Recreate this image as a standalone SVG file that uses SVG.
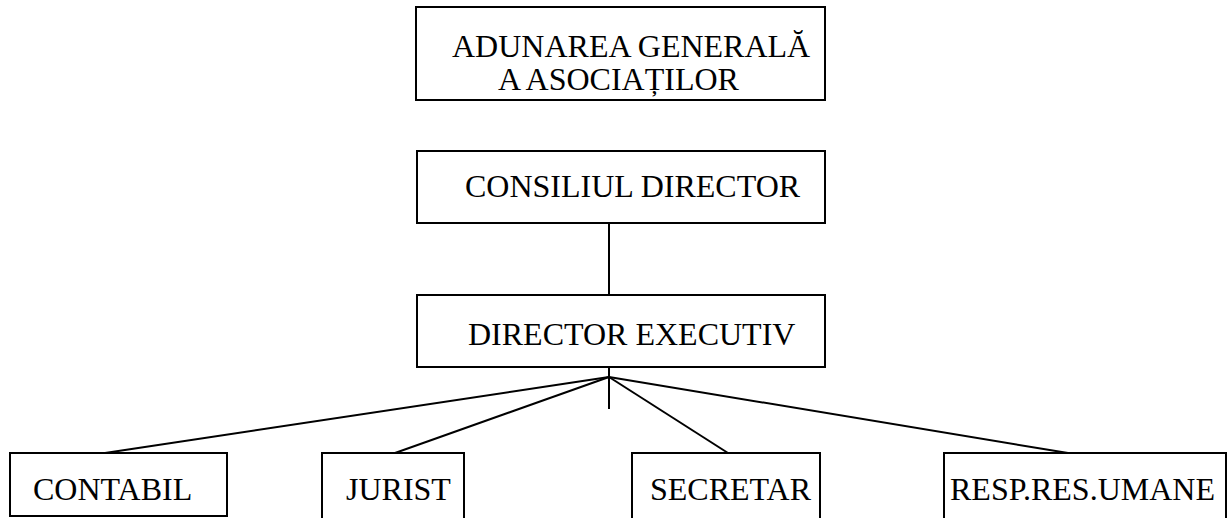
<svg xmlns="http://www.w3.org/2000/svg" width="1231" height="518" viewBox="0 0 1231 518">
<style>
.box{fill:#fff;stroke:#000;stroke-width:2}
.lbl{font-family:"Liberation Serif","Times New Roman",serif;font-size:32px;fill:#000}
.con{stroke:#000;stroke-width:2;fill:none}
</style>
<rect width="1231" height="518" fill="#fff"/>
<g id="connectors">
<line class="con" x1="609" y1="223" x2="609" y2="295"/>
<line class="con" x1="609" y1="362" x2="609" y2="409"/>
<line class="con" x1="609" y1="377" x2="105" y2="453"/>
<line class="con" x1="609" y1="377" x2="395" y2="453"/>
<line class="con" x1="609" y1="377" x2="728" y2="453"/>
<line class="con" x1="609" y1="377" x2="1068" y2="453"/>
</g>
<g id="adunarea">
<rect class="box" x="416" y="7" width="409" height="93"/>
<text class="lbl" x="452" y="57">ADUNAREA GENERALĂ</text>
<text class="lbl" x="498" y="90">A ASOCIAȚILOR</text>
</g>
<g id="consiliul">
<rect class="box" x="417" y="151" width="408" height="72"/>
<text class="lbl" x="465" y="197">CONSILIUL DIRECTOR</text>
</g>
<g id="director">
<rect class="box" x="417" y="295" width="408" height="72"/>
<text class="lbl" x="468" y="345">DIRECTOR EXECUTIV</text>
</g>
<g id="contabil">
<rect class="box" x="10" y="453" width="217" height="63"/>
<text class="lbl" x="33" y="500">CONTABIL</text>
</g>
<g id="jurist">
<rect class="box" x="322" y="453" width="142" height="80"/>
<text class="lbl" x="346" y="500">JURIST</text>
</g>
<g id="secretar">
<rect class="box" x="632" y="453" width="188" height="80"/>
<text class="lbl" x="650" y="500">SECRETAR</text>
</g>
<g id="resp">
<rect class="box" x="944" y="453" width="282" height="80"/>
<text class="lbl" x="950" y="500">RESP.RES.UMANE</text>
</g>
</svg>
